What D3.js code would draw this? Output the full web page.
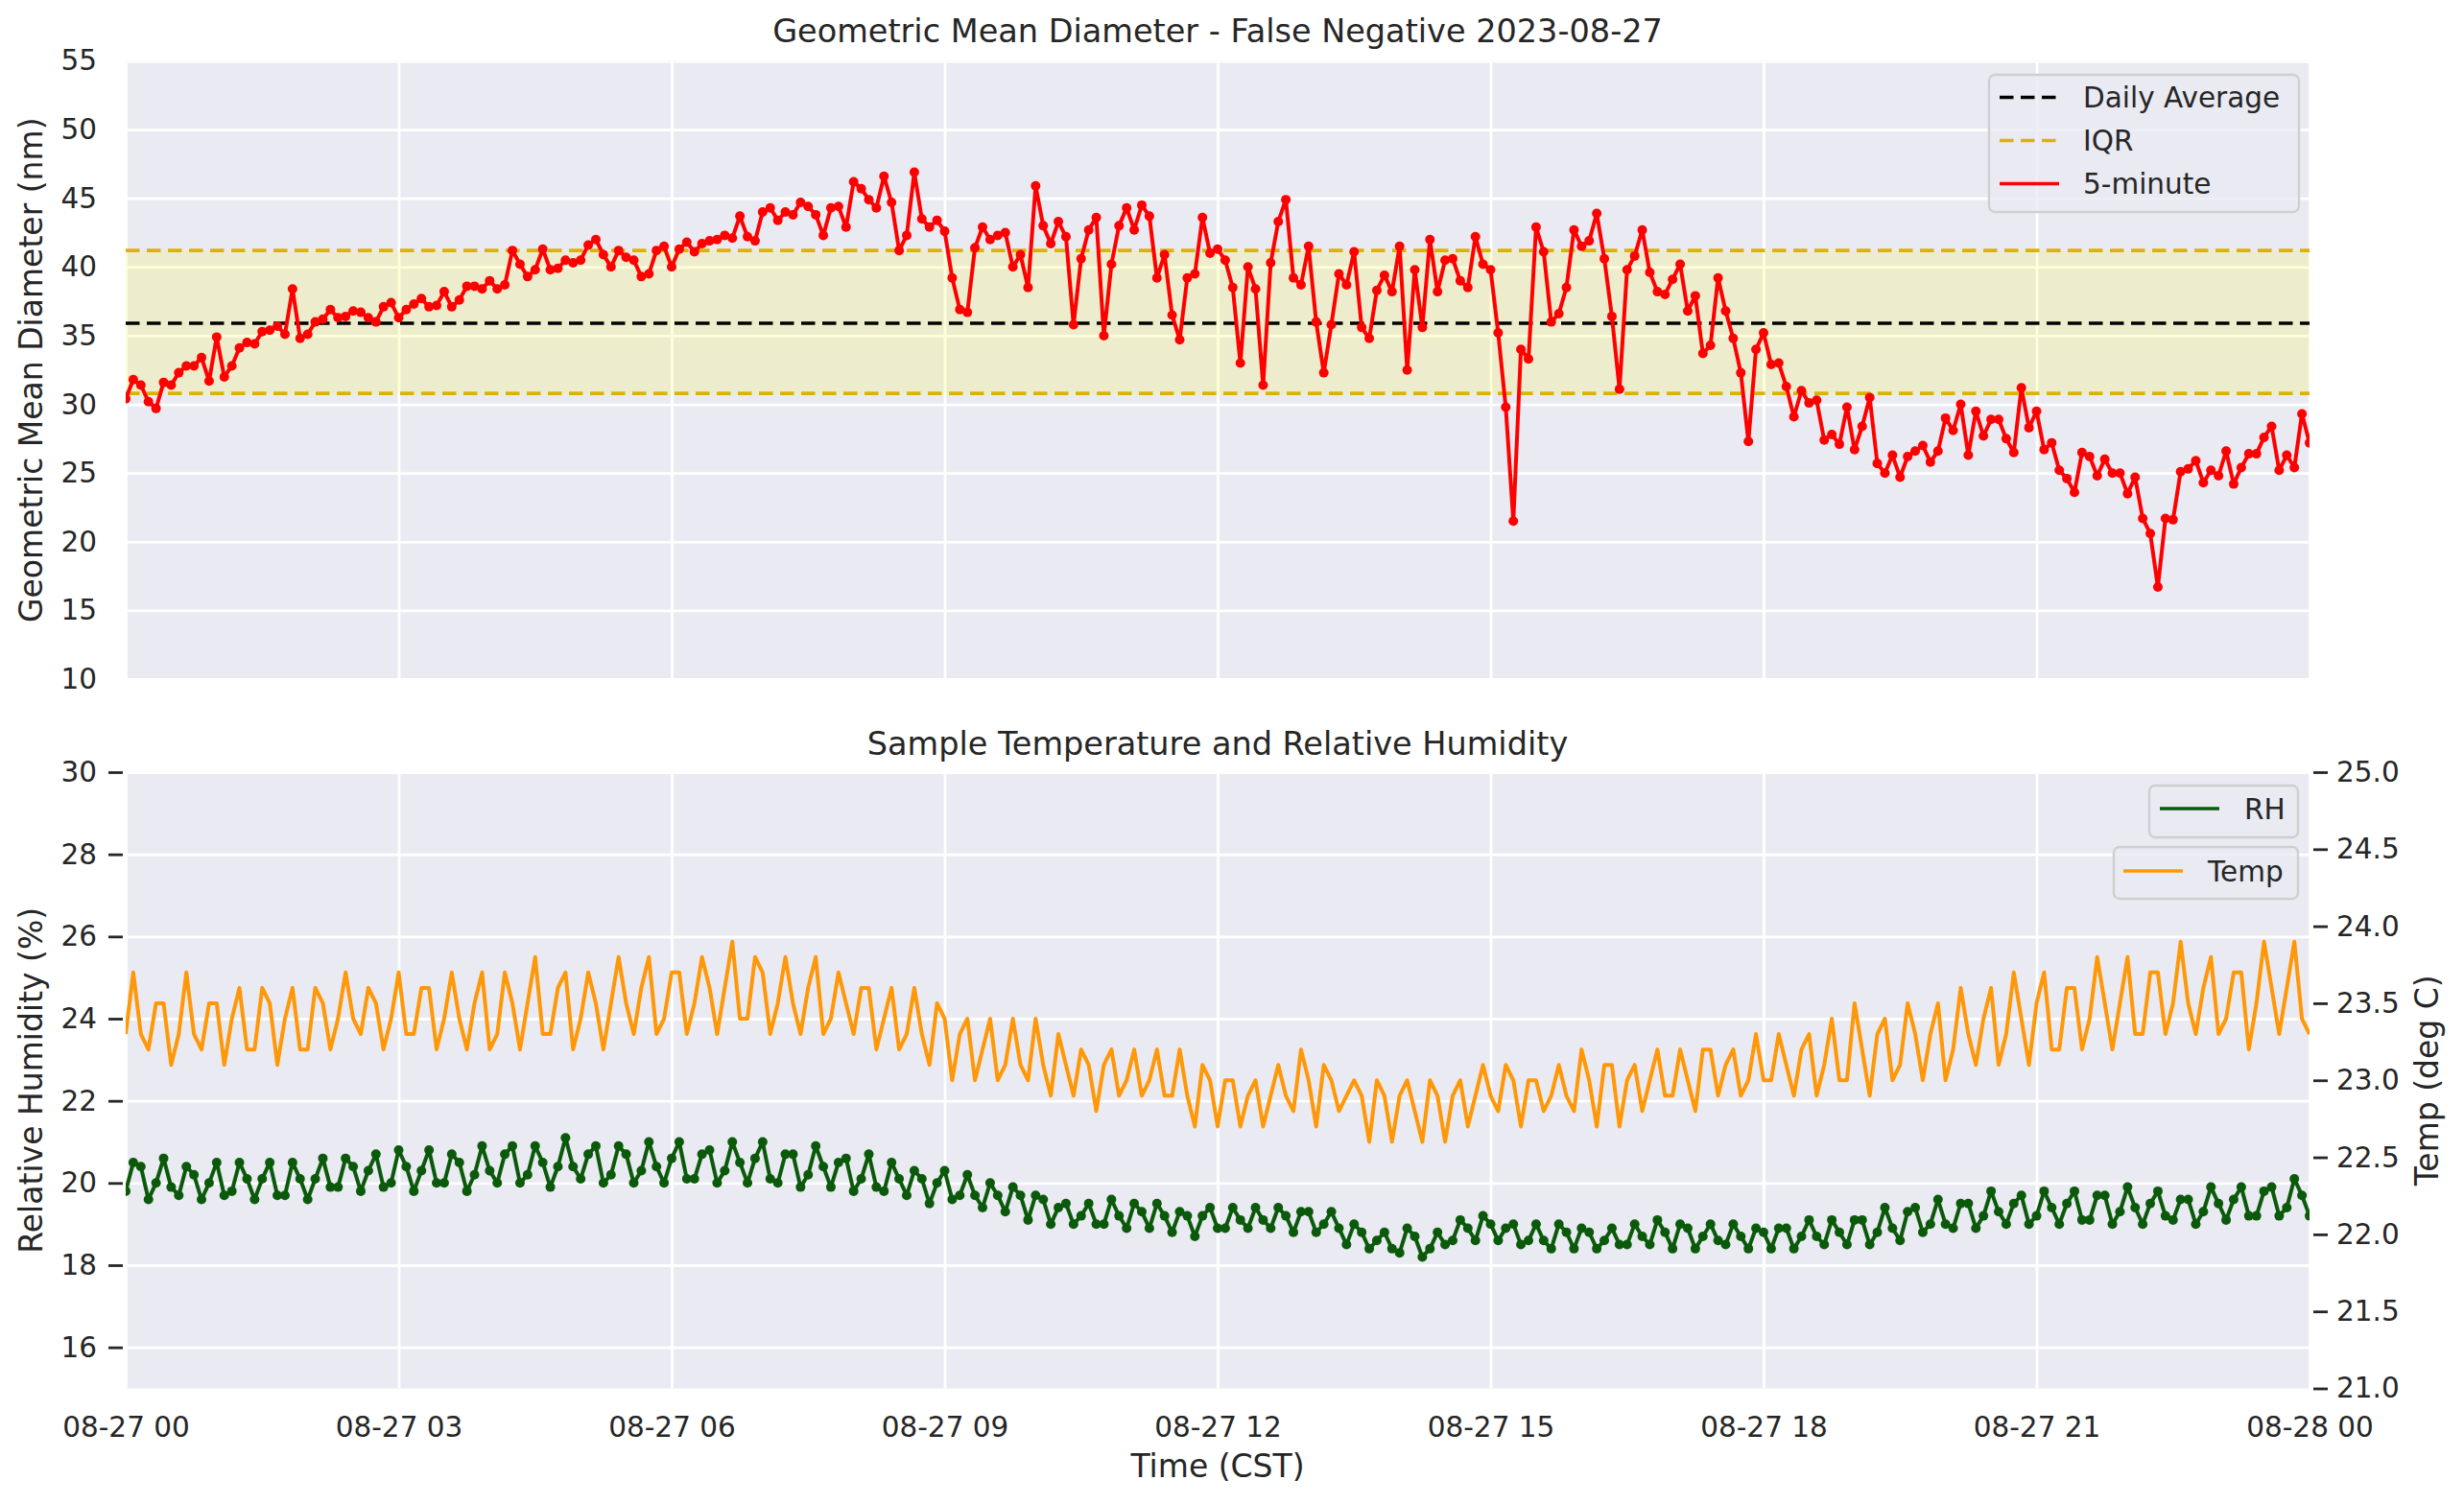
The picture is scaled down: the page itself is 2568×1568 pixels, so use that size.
<!DOCTYPE html>
<html>
<head>
<meta charset="utf-8">
<script src="https://cdn.jsdelivr.net/npm/d3@7"></script>
<style>
  html, body { margin: 0; padding: 0; background: #fff; }
  svg { display: block; font-family: "DejaVu Sans", sans-serif; }
</style>
</head>
<body>
<svg id="chart" width="2568" height="1568"></svg>
<script>
// Geometric mean diameter + sample T/RH, 5-minute samples for 2023-08-27 (CST)

// --- Data (one row per hour, 12 samples each) ---
const gmd = [
  30.4, 31.8, 31.4, 30.2, 29.7, 31.6, 31.4, 32.3, 32.8, 32.8, 33.4, 31.7,
  34.9, 32.0, 32.8, 34.1, 34.5, 34.4, 35.3, 35.4, 35.7, 35.1, 38.4, 34.8,
  35.1, 36.0, 36.2, 36.9, 36.3, 36.4, 36.8, 36.7, 36.3, 36.0, 37.1, 37.4,
  36.3, 36.9, 37.3, 37.7, 37.1, 37.2, 38.2, 37.1, 37.6, 38.6, 38.6, 38.4,
  39.0, 38.4, 38.7, 41.2, 40.2, 39.3, 39.8, 41.3, 39.8, 39.9, 40.5, 40.3,
  40.5, 41.6, 42.0, 40.9, 40.0, 41.2, 40.7, 40.5, 39.3, 39.5, 41.2, 41.5,
  40.0, 41.3, 41.8, 41.1, 41.7, 41.9, 42.0, 42.3, 42.1, 43.7, 42.2, 41.9,
  44.0, 44.3, 43.4, 44.0, 43.8, 44.7, 44.4, 43.8, 42.3, 44.3, 44.4, 42.9,
  46.2, 45.7, 44.9, 44.3, 46.6, 44.7, 41.2, 42.3, 46.9, 43.5, 42.9, 43.4,
  42.6, 39.2, 36.9, 36.7, 41.4, 42.9, 42.0, 42.3, 42.5, 40.0, 40.9, 38.5,
  45.9, 43.0, 41.7, 43.3, 42.2, 35.8, 40.6, 42.7, 43.6, 35.0, 40.2, 43.0,
  44.3, 42.7, 44.5, 43.7, 39.2, 40.9, 36.5, 34.7, 39.2, 39.5, 43.6, 41.0,
  41.3, 40.5, 38.5, 33.0, 40.0, 38.4, 31.4, 40.3, 43.3, 44.9, 39.2, 38.7,
  41.5, 36.0, 32.3, 35.8, 39.5, 38.7, 41.1, 35.6, 34.8, 38.3, 39.4, 38.2,
  41.5, 32.5, 39.8, 35.6, 42.0, 38.2, 40.5, 40.6, 39.0, 38.5, 42.2, 40.2,
  39.8, 35.2, 29.8, 21.5, 34.0, 33.3, 42.9, 41.1, 36.0, 36.6, 38.5, 42.7,
  41.5, 41.9, 43.9, 40.6, 36.4, 31.1, 39.8, 40.8, 42.7, 39.6, 38.2, 38.0,
  39.1, 40.2, 36.8, 37.9, 33.7, 34.3, 39.2, 36.8, 34.8, 32.3, 27.3, 34.0,
  35.2, 32.9, 33.0, 31.3, 29.1, 31.0, 30.1, 30.3, 27.4, 27.8, 27.1, 29.8,
  26.7, 28.4, 30.5, 25.7, 25.0, 26.3, 24.7, 26.2, 26.6, 27.0, 25.8, 26.6,
  29.0, 28.1, 30.0, 26.3, 29.5, 27.7, 28.9, 28.9, 27.5, 26.5, 31.2, 28.3,
  29.5, 26.7, 27.2, 25.2, 24.6, 23.6, 26.5, 26.2, 24.8, 26.0, 25.0, 25.0,
  23.5, 24.7, 21.7, 20.6, 16.7, 21.7, 21.6, 25.1, 25.3, 25.9, 24.3, 25.2,
  24.8, 26.6, 24.2, 25.4, 26.4, 26.4, 27.6, 28.4, 25.2, 26.3, 25.4, 29.3,
  27.2
];

const temp = [
  23.3, 23.7, 23.3, 23.2, 23.5, 23.5, 23.1, 23.3, 23.7, 23.3, 23.2, 23.5,
  23.5, 23.1, 23.4, 23.6, 23.2, 23.2, 23.6, 23.5, 23.1, 23.4, 23.6, 23.2,
  23.2, 23.6, 23.5, 23.2, 23.4, 23.7, 23.4, 23.3, 23.6, 23.5, 23.2, 23.4,
  23.7, 23.3, 23.3, 23.6, 23.6, 23.2, 23.4, 23.7, 23.4, 23.2, 23.5, 23.7,
  23.2, 23.3, 23.7, 23.5, 23.2, 23.5, 23.8, 23.3, 23.3, 23.6, 23.7, 23.2,
  23.4, 23.7, 23.5, 23.2, 23.5, 23.8, 23.5, 23.3, 23.6, 23.8, 23.3, 23.4,
  23.7, 23.7, 23.3, 23.5, 23.8, 23.6, 23.3, 23.6, 23.9, 23.4, 23.4, 23.8,
  23.7, 23.3, 23.5, 23.8, 23.5, 23.3, 23.6, 23.8, 23.3, 23.4, 23.7, 23.5,
  23.3, 23.6, 23.6, 23.2, 23.4, 23.6, 23.2, 23.3, 23.6, 23.3, 23.1, 23.5,
  23.4, 23.0, 23.3, 23.4, 23.0, 23.2, 23.4, 23.0, 23.1, 23.4, 23.1, 23.0,
  23.4, 23.1, 22.9, 23.3, 23.1, 22.9, 23.2, 23.1, 22.8, 23.1, 23.2, 22.9,
  23.0, 23.2, 22.9, 23.0, 23.2, 22.9, 22.9, 23.2, 22.9, 22.7, 23.1, 23.0,
  22.7, 23.0, 23.0, 22.7, 22.9, 23.0, 22.7, 22.9, 23.1, 22.9, 22.8, 23.2,
  23.0, 22.7, 23.1, 23.0, 22.8, 22.9, 23.0, 22.9, 22.6, 23.0, 22.9, 22.6,
  22.9, 23.0, 22.8, 22.6, 23.0, 22.9, 22.6, 22.9, 23.0, 22.7, 22.9, 23.1,
  22.9, 22.8, 23.1, 23.0, 22.7, 23.0, 23.0, 22.8, 22.9, 23.1, 22.9, 22.8,
  23.2, 23.0, 22.7, 23.1, 23.1, 22.7, 23.0, 23.1, 22.8, 23.0, 23.2, 22.9,
  22.9, 23.2, 23.0, 22.8, 23.2, 23.2, 22.9, 23.1, 23.2, 22.9, 23.0, 23.3,
  23.0, 23.0, 23.3, 23.1, 22.9, 23.2, 23.3, 22.9, 23.1, 23.4, 23.0, 23.0,
  23.5, 23.2, 22.9, 23.3, 23.4, 23.0, 23.1, 23.5, 23.3, 23.0, 23.3, 23.5,
  23.0, 23.2, 23.6, 23.3, 23.1, 23.4, 23.6, 23.1, 23.3, 23.7, 23.4, 23.1,
  23.5, 23.7, 23.2, 23.2, 23.6, 23.6, 23.2, 23.4, 23.8, 23.5, 23.2, 23.5,
  23.8, 23.3, 23.3, 23.7, 23.7, 23.3, 23.5, 23.9, 23.5, 23.3, 23.6, 23.8,
  23.3, 23.4, 23.7, 23.7, 23.2, 23.5, 23.9, 23.6, 23.3, 23.6, 23.9, 23.4,
  23.3
];

const rh = [
  19.8, 20.5, 20.4, 19.6, 20.0, 20.6, 19.9, 19.7, 20.4, 20.2, 19.6, 20.0,
  20.5, 19.7, 19.8, 20.5, 20.1, 19.6, 20.1, 20.5, 19.7, 19.7, 20.5, 20.1,
  19.6, 20.1, 20.6, 19.9, 19.9, 20.6, 20.4, 19.8, 20.3, 20.7, 19.9, 20.0,
  20.8, 20.4, 19.8, 20.3, 20.8, 20.0, 20.0, 20.7, 20.5, 19.8, 20.2, 20.9,
  20.3, 20.0, 20.7, 20.9, 20.0, 20.2, 20.9, 20.5, 19.9, 20.4, 21.1, 20.4,
  20.1, 20.7, 20.9, 20.0, 20.2, 20.9, 20.7, 20.0, 20.3, 21.0, 20.4, 20.0,
  20.6, 21.0, 20.1, 20.1, 20.7, 20.8, 20.0, 20.3, 21.0, 20.5, 20.0, 20.6,
  21.0, 20.1, 20.0, 20.7, 20.7, 19.9, 20.2, 20.9, 20.4, 19.9, 20.5, 20.6,
  19.8, 20.1, 20.7, 19.9, 19.8, 20.5, 20.1, 19.7, 20.3, 20.1, 19.5, 20.0,
  20.3, 19.6, 19.7, 20.2, 19.7, 19.4, 20.0, 19.7, 19.3, 19.9, 19.7, 19.1,
  19.7, 19.6, 19.0, 19.4, 19.5, 19.0, 19.2, 19.5, 19.0, 19.0, 19.6, 19.2,
  18.9, 19.5, 19.3, 18.9, 19.5, 19.2, 18.8, 19.3, 19.2, 18.7, 19.2, 19.4,
  18.9, 18.9, 19.4, 19.1, 18.9, 19.4, 19.1, 18.9, 19.4, 19.2, 18.8, 19.3,
  19.3, 18.8, 19.0, 19.3, 18.9, 18.5, 19.0, 18.8, 18.4, 18.6, 18.8, 18.4,
  18.3, 18.9, 18.7, 18.2, 18.4, 18.8, 18.5, 18.6, 19.1, 18.9, 18.6, 19.2,
  19.0, 18.6, 18.9, 19.0, 18.5, 18.6, 19.0, 18.6, 18.4, 19.0, 18.8, 18.4,
  18.9, 18.8, 18.4, 18.6, 18.9, 18.5, 18.5, 19.0, 18.7, 18.5, 19.1, 18.8,
  18.4, 19.0, 18.9, 18.4, 18.7, 19.0, 18.6, 18.5, 19.0, 18.7, 18.4, 18.9,
  18.8, 18.4, 18.9, 18.9, 18.4, 18.7, 19.1, 18.7, 18.5, 19.1, 18.8, 18.5,
  19.1, 19.1, 18.5, 18.8, 19.4, 18.9, 18.6, 19.3, 19.4, 18.8, 19.0, 19.6,
  19.0, 18.9, 19.5, 19.5, 18.9, 19.2, 19.8, 19.3, 19.0, 19.5, 19.7, 19.0,
  19.2, 19.8, 19.4, 19.0, 19.5, 19.8, 19.1, 19.1, 19.7, 19.7, 19.0, 19.3,
  19.9, 19.4, 19.0, 19.5, 19.8, 19.2, 19.1, 19.6, 19.6, 19.0, 19.3, 19.9,
  19.5, 19.1, 19.6, 19.9, 19.2, 19.2, 19.8, 19.9, 19.2, 19.4, 20.1, 19.7,
  19.2
];

const dailyAverage = 35.9;
const iqr = [30.8, 41.2];

const gmdTicks = [10, 15, 20, 25, 30, 35, 40, 45, 50, 55];
const rhTicks = [16, 18, 20, 22, 24, 26, 28, 30];
const tempTicks = [21.0, 21.5, 22.0, 22.5, 23.0, 23.5, 24.0, 24.5, 25.0];
const hourTicks = [0, 3, 6, 9, 12, 15, 18, 21, 24];

const dayStart = new Date(2023, 7, 27, 0, 0);
const dayEnd = new Date(2023, 7, 28, 0, 0);

// --- Layout ---
const W = 2568, H = 1568;
const left = 131, right = 2407;
const top1 = 63.5, bot1 = 708;
const top2 = 805, bot2 = 1447.5;

const ink = "#262626";
const axBg = "#eaeaf2";
const font = "\"DejaVu Sans\", sans-serif";
const tickFs = 29.5, labelFs = 33, titleFs = 33.5;

const svg = d3.select("#chart");
svg.append("rect").attr("width", W).attr("height", H).attr("fill", "#fff");

const x = d3.scaleTime().domain([dayStart, dayEnd]).range([left, right]);
const yG = d3.scaleLinear().domain([10, 55]).range([bot1, top1]);
const yRH = d3.scaleLinear().domain([15, 30]).range([bot2, top2]);
const yT = d3.scaleLinear().domain([21, 25]).range([bot2, top2]);

const timeTicks = hourTicks.map((h) => d3.timeHour.offset(dayStart, h));
const sampleTime = (i) => d3.timeMinute.offset(dayStart, 5 * i);

const defs = svg.append("defs");
function clip(id, y0, y1) {
  defs.append("clipPath").attr("id", id)
    .append("rect").attr("x", left).attr("y", y0).attr("width", right - left).attr("height", y1 - y0);
  return `url(#${id})`;
}
const clipTop = clip("clip-top", top1, bot1);
const clipBot = clip("clip-bot", top2, bot2);

// --- Panel background + white grid ---
function panel(y0, y1, yScale, yTicks, clipUrl) {
  svg.append("rect").attr("x", left).attr("y", y0).attr("width", right - left).attr("height", y1 - y0).attr("fill", axBg);
  const grid = svg.append("g").attr("clip-path", clipUrl);
  grid.append("g").attr("transform", `translate(0,${y1})`)
    .call(d3.axisBottom(x).tickValues(timeTicks).tickSize(-(y1 - y0)).tickFormat(""));
  grid.append("g").attr("transform", `translate(${left},0)`)
    .call(d3.axisLeft(yScale).tickValues(yTicks).tickSize(-(right - left)).tickFormat(""));
  grid.selectAll(".domain").remove();
  grid.selectAll(".tick line").attr("stroke", "#fff").attr("stroke-width", 2.8);
}

function styleAxis(g) {
  g.select(".domain").remove();
  g.attr("font-family", font).attr("font-size", tickFs);
  g.selectAll(".tick text").attr("fill", ink);
  g.selectAll(".tick line").attr("stroke", ink).attr("stroke-width", 2.8);
}

function text(str, x0, y0, opts = {}) {
  const t = svg.append("text").attr("x", x0).attr("y", y0).text(str)
    .attr("font-family", font).attr("font-size", opts.size || labelFs)
    .attr("fill", ink).attr("text-anchor", opts.anchor || "middle");
  if (opts.rotate) t.attr("transform", `rotate(${opts.rotate},${x0},${y0})`);
  return t;
}

// ===== Top panel: geometric mean diameter =====
panel(top1, bot1, yG, gmdTicks, clipTop);

const gTop = svg.append("g").attr("clip-path", clipTop);

// IQR band
gTop.append("rect")
  .attr("x", left).attr("width", right - left)
  .attr("y", yG(iqr[1])).attr("height", yG(iqr[0]) - yG(iqr[1]))
  .attr("fill", "yellow").attr("fill-opacity", 0.15);

gTop.append("line")
  .attr("x1", left).attr("x2", right).attr("y1", yG(dailyAverage)).attr("y2", yG(dailyAverage))
  .attr("stroke", "#000").attr("stroke-width", 3.6).attr("stroke-dasharray", "14.5,7.5");

gTop.selectAll("line.iqr").data(iqr).join("line").attr("class", "iqr")
  .attr("x1", left).attr("x2", right).attr("y1", (d) => yG(d)).attr("y2", (d) => yG(d))
  .attr("stroke", "#dbb208").attr("stroke-width", 3.6).attr("stroke-dasharray", "14.5,7.5");

const gmdLine = d3.line().x((d, i) => x(sampleTime(i))).y((d) => yG(d));
gTop.append("path").datum(gmd).attr("d", gmdLine)
  .attr("fill", "none").attr("stroke", "#ff0000").attr("stroke-width", 4).attr("stroke-linejoin", "round");
gTop.selectAll("circle").data(gmd).join("circle")
  .attr("cx", (d, i) => x(sampleTime(i))).attr("cy", (d) => yG(d)).attr("r", 5).attr("fill", "#ff0000");

svg.append("g").attr("transform", `translate(${left},0)`)
  .call(d3.axisLeft(yG).tickValues(gmdTicks).tickSize(0).tickPadding(30).tickFormat(d3.format("d")))
  .call(styleAxis);

text("Geometric Mean Diameter - False Negative 2023-08-27", (left + right) / 2, 44, { size: titleFs });
text("Geometric Mean Diameter (nm)", 44, (top1 + bot1) / 2, { rotate: -90 });

// ===== Bottom panel: RH and temperature =====
panel(top2, bot2, yRH, rhTicks, clipBot);

const gBot = svg.append("g").attr("clip-path", clipBot);

const rhLine = d3.line().x((d, i) => x(sampleTime(i))).y((d) => yRH(d));
gBot.append("path").datum(rh).attr("d", rhLine)
  .attr("fill", "none").attr("stroke", "#0b5a0b").attr("stroke-width", 4).attr("stroke-linejoin", "round");
gBot.selectAll("circle").data(rh).join("circle")
  .attr("cx", (d, i) => x(sampleTime(i))).attr("cy", (d) => yRH(d)).attr("r", 5).attr("fill", "#0b5a0b");

const tLine = d3.line().x((d, i) => x(sampleTime(i))).y((d) => yT(d));
gBot.append("path").datum(temp).attr("d", tLine)
  .attr("fill", "none").attr("stroke", "#ff9808").attr("stroke-width", 4).attr("stroke-linejoin", "round");

svg.append("g").attr("transform", `translate(128,0)`)
  .call(d3.axisLeft(yRH).tickValues(rhTicks).tickSize(15).tickPadding(12).tickFormat(d3.format("d")))
  .call(styleAxis);

svg.append("g").attr("transform", `translate(2411,0)`)
  .call(d3.axisRight(yT).tickValues(tempTicks).tickSize(15).tickPadding(9).tickFormat(d3.format(".1f")))
  .call(styleAxis);

svg.append("g").attr("transform", `translate(0,${bot2})`)
  .call(d3.axisBottom(x).tickValues(timeTicks).tickSize(0).tickPadding(30).tickFormat(d3.timeFormat("%m-%d %H")))
  .call(styleAxis);

text("Sample Temperature and Relative Humidity", (left + right) / 2, 787, { size: titleFs });
text("Time (CST)", (left + right) / 2, 1540);
text("Relative Humidity (%)", 44, (top2 + bot2) / 2, { rotate: -90 });
text("Temp (deg C)", 2541, (top2 + bot2) / 2, { rotate: -90 });

// --- Legends ---
function legend(box, items) {
  const g = svg.append("g");
  g.append("rect").attr("x", box[0]).attr("y", box[1]).attr("width", box[2]).attr("height", box[3])
    .attr("rx", 6).attr("fill", axBg).attr("fill-opacity", 0.8)
    .attr("stroke", "#cfcfcf").attr("stroke-width", 2.4);
  items.forEach((it) => {
    g.append("line").attr("x1", it.x1).attr("x2", it.x1 + 62).attr("y1", it.y).attr("y2", it.y)
      .attr("stroke", it.color).attr("stroke-width", it.dash ? 3.6 : 3.6)
      .attr("stroke-dasharray", it.dash || null);
    g.append("text").attr("x", it.tx).attr("y", it.y + 10.5).text(it.label)
      .attr("font-family", font).attr("font-size", tickFs).attr("fill", ink);
  });
}

legend([2073, 78, 323, 143], [
  { label: "Daily Average", color: "#000", dash: "14.5,7.5", x1: 2084, tx: 2171, y: 101.5 },
  { label: "IQR", color: "#dbb208", dash: "14.5,7.5", x1: 2084, tx: 2171, y: 146.5 },
  { label: "5-minute", color: "#ff0000", x1: 2084, tx: 2171, y: 191.5 },
]);
legend([2240, 819, 155, 54], [
  { label: "RH", color: "#0b5a0b", x1: 2251, tx: 2339, y: 843 },
]);
legend([2203, 883, 192, 54], [
  { label: "Temp", color: "#ff9808", x1: 2213, tx: 2301, y: 908 },
]);
</script>
</body>
</html>
